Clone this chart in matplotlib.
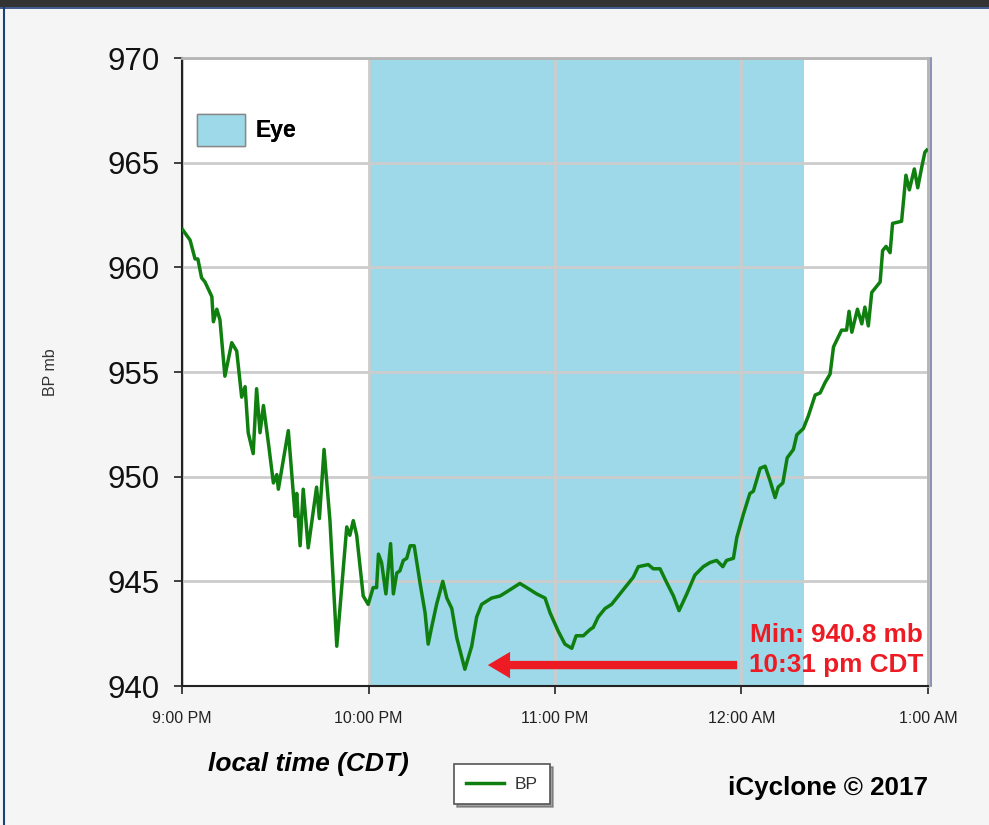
import matplotlib
matplotlib.use("Agg")
import matplotlib.pyplot as plt
from matplotlib.patches import Patch, FancyArrowPatch, Rectangle
from matplotlib.lines import Line2D

# minutes after 9:00 PM CDT, barometric pressure (mb)
minutes = [0.2, 2.6, 4.2, 5.1, 6.3, 7.4, 9.6, 10.1, 11.2, 12.2, 13.8, 16.0, 17.6,
           19.2, 20.3, 21.3, 22.9, 24.0, 25.1, 26.2, 27.8, 29.4, 30.5, 31.0, 34.2,
           36.4, 36.9, 38.0, 39.0, 40.6, 43.3, 44.2, 45.7, 47.6, 49.8, 53.0, 54.0,
           55.1, 56.2, 58.3, 59.9, 61.5, 62.6, 63.2, 64.2, 65.6, 67.1, 68.0, 69.1,
           70.1, 71.2, 72.3, 73.4, 74.7, 76.6, 78.2, 79.2, 80.3, 81.9, 83.9, 85.2,
           86.8, 88.4, 91.0, 93.2, 94.8, 96.4, 99.6, 102.3, 104.5, 106.6, 108.7,
           110.9, 114.1, 116.8, 118.4, 121.1, 123.2, 125.4, 126.8, 129.1, 131.3,
           132.3, 133.9, 136.1, 138.2, 140.9, 143.6, 145.2, 146.8, 150.0, 151.6,
           153.8, 155.4, 158.1, 159.9, 162.4, 165.0, 167.7, 169.9, 172.0, 174.0,
           175.2, 177.4, 178.5, 180.6, 182.7, 183.8, 186.0, 187.6, 189.2, 190.8,
           191.8, 193.3, 194.7, 196.7, 197.8, 199.9, 201.5, 203.7, 205.3, 206.9,
           208.5, 209.6, 212.2, 213.8, 214.6, 215.5, 217.3, 218.7, 219.7, 220.8,
           221.9, 223.5, 224.6, 225.4, 226.5, 227.8, 228.6, 231.5, 232.9, 234.0,
           235.6, 236.7, 238.0, 239.0, 239.6]
pressure = [961.8, 961.3, 960.4, 960.4, 959.5, 959.3, 958.6, 957.4, 958.0, 957.5,
            954.8, 956.4, 956.0, 953.8, 954.3, 952.1, 951.1, 954.2, 952.1, 953.4,
            951.6, 949.7, 950.1, 949.4, 952.2, 948.1, 949.2, 946.7, 949.4, 946.6,
            949.5, 948.0, 951.3, 947.9, 941.9, 947.6, 947.2, 947.9, 947.2, 944.3,
            943.9, 944.7, 944.7, 946.3, 945.9, 944.4, 946.8, 944.4, 945.4, 945.5,
            946.0, 946.1, 946.7, 946.7, 944.9, 943.5, 942.0, 942.8, 943.9, 945.0,
            944.2, 943.7, 942.3, 940.8, 941.9, 943.3, 943.9, 944.2, 944.3, 944.5,
            944.7, 944.9, 944.7, 944.4, 944.2, 943.5, 942.6, 942.0, 941.8, 942.4,
            942.4, 942.7, 942.8, 943.3, 943.7, 943.9, 944.4, 944.9, 945.2, 945.7,
            945.8, 945.6, 945.6, 945.1, 944.3, 943.6, 944.4, 945.3, 945.7, 945.9,
            946.0, 945.7, 946.0, 946.1, 947.1, 948.2, 949.2, 949.3, 950.4, 950.5,
            949.8, 949.0, 949.5, 949.7, 950.9, 951.3, 952.0, 952.3, 952.9, 953.9,
            954.0, 954.5, 954.9, 956.2, 957.0, 957.0, 957.9, 956.9, 958.0, 957.3,
            958.1, 957.2, 958.8, 959.1, 959.3, 960.8, 961.0, 960.7, 962.1, 962.2,
            964.4, 963.7, 964.7, 963.8, 964.8, 965.5, 965.6]

eye_start, eye_end = 60, 200
hour_ticks = [0, 60, 120, 180, 240]
hour_labels = ["9:00 PM", "10:00 PM", "11:00 PM", "12:00 AM", "1:00 AM"]
y_ticks = [940, 945, 950, 955, 960, 965, 970]
min_time, min_bp = 91.0, 940.8

eye_color = "#9dd9e9"
red = "#ed1c24"
green = "#0f800f"

plt.rcParams['font.family'] = ['Liberation Sans', 'DejaVu Sans']

fig = plt.figure(figsize=(9.89, 8.25), dpi=100, facecolor="#f5f5f5")
ax = fig.add_axes([182/989, 1 - 686/825, (928-182)/989, (686-58)/825])
ax.set_facecolor("white")

# window chrome
fig.add_artist(Rectangle((0, 1 - 7/825), 1, 7/825, transform=fig.transFigure,
                         facecolor="#333333", edgecolor="none"))
fig.add_artist(Line2D([0, 1], [1 - 8/825, 1 - 8/825], transform=fig.transFigure,
                      color="#1f3f7a", lw=1.2))
fig.add_artist(Line2D([4/989, 4/989], [0, 1 - 8/825], transform=fig.transFigure,
                      color="#1f3f7a", lw=1.5))
fig.add_artist(Line2D([931/989, 931/989], [1 - 686/825, 1 - 58/825], transform=fig.transFigure,
                      color="#7880a8", lw=1.2))

ax.axvspan(eye_start, eye_end, color=eye_color, zorder=1, lw=0)
line, = ax.plot(minutes, pressure, color=green, lw=2.5, zorder=3)

ax.set_xlim(0, 240)
ax.set_ylim(940, 970)
ax.set_xticks(hour_ticks)
ax.set_xticklabels(hour_labels, fontsize=11.5, color="#222222")
ax.set_yticks(y_ticks)
ax.set_yticklabels([str(v) for v in y_ticks], fontsize=22.5, color="#111111")
ax.tick_params(axis='both', direction='out', length=6, width=1.2, color="#222222")
ax.tick_params(axis='x', pad=12)
ax.tick_params(axis='y', pad=10)

ax.set_axisbelow('line')
ax.grid(True, color="#cccccc", lw=2)

for s in ['left', 'bottom']:
    ax.spines[s].set_color("#222222")
    ax.spines[s].set_linewidth(1.5)
for s in ['top', 'right']:
    ax.spines[s].set_color("#b5b5b5")
    ax.spines[s].set_linewidth(2)

ax.set_ylabel("BP mb", fontsize=11.5, color="#333333", labelpad=36)

# Eye legend
eye_leg = ax.legend([Patch(facecolor=eye_color, edgecolor="#888888")], ["Eye"],
                    loc="upper left", bbox_to_anchor=(-0.005, 0.94), frameon=False,
                    handlelength=2.1, handleheight=1.75, handletextpad=0.45,
                    borderpad=0.3, prop=dict(weight='bold', size=16.5))
ax.add_artist(eye_leg)

# minimum annotation
arrow = FancyArrowPatch((179.5, 941.0), (97.5, 941.0), mutation_scale=20,
                        arrowstyle="simple,head_length=0.8,head_width=0.95,tail_width=0.3",
                        color=red, lw=0, zorder=4)
ax.add_patch(arrow)
ax.text(0.993, 0.082, "Min: %.1f mb" % min_bp, transform=ax.transAxes, ha='right',
        va='center', color=red, fontsize=18.8, fontweight='bold', zorder=5)
ax.text(0.993, 0.034, "10:31 pm CDT", transform=ax.transAxes, ha='right',
        va='center', color=red, fontsize=18.8, fontweight='bold', zorder=5)

fig.text(208/989, 1 - 764/825, "local time (CDT)", fontsize=19, fontweight='bold',
         fontstyle='italic', va='center', ha='left')
fig.text(928/989, 1 - 788/825, "iCyclone \u00a9 2017", fontsize=18.7, fontweight='bold',
         va='center', ha='right')

bp_leg = fig.legend([line], ["BP"], loc="center", bbox_to_anchor=(502/989, 1 - 784/825),
                    fancybox=False, shadow=True, edgecolor="#555555", framealpha=1,
                    handlelength=2.2, fontsize=12.5, borderpad=0.7, borderaxespad=0,
                    handletextpad=0.6)
bp_leg.get_frame().set_linewidth(1.2)
for t in bp_leg.get_texts():
    t.set_color("#333333")

fig.savefig("out.png", dpi=100, facecolor=fig.get_facecolor())
